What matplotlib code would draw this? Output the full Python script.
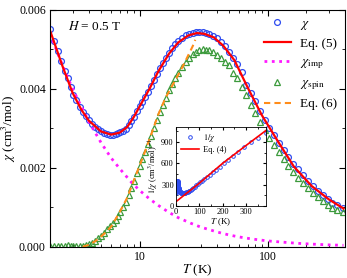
import numpy as np
import matplotlib
matplotlib.use('Agg')
import matplotlib.pyplot as plt
from matplotlib.ticker import MultipleLocator, FixedLocator, NullFormatter

plt.rcParams['font.family'] = 'serif'
plt.rcParams['font.serif'] = ['Liberation Serif', 'DejaVu Serif']
plt.rcParams['mathtext.fontset'] = 'stix'

###### Data ######

# measured chi (blue circles) and chi_spin (green triangles), same temperatures
T_data = [2.0, 2.15, 2.3, 2.45, 2.6, 2.75, 2.9, 3.05, 3.2, 3.4, 3.6, 3.8, 4.0, 4.25,
          4.5, 4.75, 5.0, 5.3, 5.6, 5.9, 6.2, 6.5, 6.8, 7.1, 7.4, 7.8, 8.2, 8.6, 9.0,
          9.5, 10, 10.5, 11, 11.6, 12.2, 12.9, 13.6, 14.4, 15.2, 16, 17, 18, 19, 20,
          21.5, 23, 24.5, 26, 27.5, 29, 31, 33, 35, 37.5, 40, 43, 46, 50, 54, 58, 63,
          68, 74, 80, 87, 95, 103, 112, 122, 133, 145, 158, 172, 188, 205, 224, 245,
          268, 293, 320, 350, 385]
chi = [0.00550, 0.00522, 0.00495, 0.00470, 0.00446, 0.00428, 0.00405, 0.00385,
       0.00371, 0.00355, 0.00342, 0.00330, 0.00320, 0.00311, 0.00303, 0.00297,
       0.00292, 0.00288, 0.00286, 0.00284, 0.00284, 0.00285, 0.00288, 0.00291,
       0.00294, 0.00299, 0.00308, 0.00318, 0.00329, 0.00343, 0.00356, 0.00366,
       0.00378, 0.00392, 0.00406, 0.00422, 0.00437, 0.00452, 0.00465, 0.00478,
       0.00491, 0.00503, 0.00513, 0.00520, 0.00528, 0.00535, 0.00539, 0.00542,
       0.00544, 0.00544, 0.00543, 0.00541, 0.00538, 0.00534, 0.00528, 0.00518,
       0.00507, 0.00492, 0.00478, 0.00462, 0.00442, 0.00410, 0.00390, 0.00368,
       0.00343, 0.00322, 0.00302, 0.00283, 0.00263, 0.00246, 0.00227, 0.00210,
       0.00196, 0.00181, 0.00166, 0.00153, 0.00142, 0.00131, 0.00121, 0.00112,
       0.00105, 0.00098]
chi_spin = [0.00002, 0.00002, 0.00003, 0.00002, 0.00003, 0.00005, 0.00002, 0.00001,
            0.00001, 0.00001, 0.00002, 0.00004, 0.00007, 0.00011, 0.00016, 0.00022,
            0.00028, 0.00036, 0.00044, 0.00053, 0.00060, 0.00069, 0.00078, 0.00089,
            0.00100, 0.00114, 0.00131, 0.00148, 0.00166, 0.00186, 0.00205, 0.00223,
            0.00240, 0.00260, 0.00280, 0.00301, 0.00321, 0.00341, 0.00360, 0.00377,
            0.00396, 0.00413, 0.00427, 0.00439, 0.00454, 0.00467, 0.00478, 0.00487,
            0.00494, 0.00498, 0.00500, 0.00499, 0.00497, 0.00492, 0.00486, 0.00478,
            0.00469, 0.00460, 0.00441, 0.00427, 0.00405, 0.00383, 0.00360, 0.00338,
            0.00315, 0.00295, 0.00276, 0.00258, 0.00240, 0.00222, 0.00205, 0.00190,
            0.00175, 0.00162, 0.00149, 0.00137, 0.00125, 0.00115, 0.00106, 0.00099,
            0.00093, 0.00089]

# Eq. (5) fit (red line)
T_eq5 = [2, 2.5, 3, 3.5, 4, 5, 6, 7, 8, 9, 10, 12, 14, 17, 20, 24, 28, 32, 38, 45,
         55, 70, 90, 120, 160, 220, 300, 390]
chi_eq5 = [0.00548, 0.00458, 0.00390, 0.00348, 0.00320, 0.00292, 0.00284, 0.00289,
           0.00303, 0.00328, 0.00355, 0.00401, 0.00444, 0.00489, 0.00517, 0.00535,
           0.00541, 0.00539, 0.00530, 0.00509, 0.00472, 0.00402, 0.00333, 0.00267,
           0.00203, 0.00154, 0.00120, 0.00097]

# impurity contribution (magenta dotted)
T_imp = [2, 2.5, 3, 4, 5, 6, 7, 8.66, 10, 12, 14, 16.8, 20, 25, 30, 41, 50, 60, 75,
         100, 130, 170, 220, 300, 390]
chi_imp = [0.00540, 0.00460, 0.00400, 0.00318, 0.00264, 0.00225, 0.00198, 0.00163,
           0.00143, 0.00121, 0.00105, 0.00088, 0.00074, 0.00060, 0.00050, 0.00037,
           0.00030, 0.00025, 0.00020, 0.00015, 0.00012, 0.00009, 0.00007, 0.00005,
           0.00004]

# Eq. (6) fit (orange dashed)
T_eq6 = [3.6, 4, 4.5, 5, 5.5, 6, 7, 8, 9, 10, 11, 12.5, 14, 16, 18, 20, 22, 24, 26, 27.2]
chi_eq6 = [0.00000, 0.00005, 0.00014, 0.00026, 0.00038, 0.00051, 0.00088, 0.00124,
           0.00167, 0.00205, 0.00240, 0.00290, 0.00335, 0.00378, 0.00408, 0.00435,
           0.00460, 0.00485, 0.00508, 0.00524]

# inset: Eq. (4) line for 1/chi
T_eq4 = [0, 100, 200, 300, 385]
inv_eq4 = [60, 320, 600, 850, 1060]

blue = '#2e4cf0'
green = '#3c9a3c'
orange = '#ff8c1a'

###### Main plot ######

fig = plt.figure(figsize=(3.47, 2.78), dpi=100)
ax = fig.add_axes([0.144, 0.112, 0.850, 0.853])

h_chi, = ax.plot(T_data, chi, 'o', ms=4.2, mfc='none', mec=blue, mew=0.9)
h_spin, = ax.plot(T_data, chi_spin, '^', ms=4.2, mfc='none', mec=green, mew=0.9)
h_imp, = ax.plot(T_imp, chi_imp, ':', color='#ff1aff', lw=2.0)
h_eq5, = ax.plot(T_eq5, chi_eq5, '-', color='red', lw=1.6)
h_eq6, = ax.plot(T_eq6, chi_eq6, '--', color=orange, lw=1.5, dashes=(3, 2))

ax.set_xscale('log')
ax.set_xlim(2, 400)
ax.set_ylim(0, 0.006)
ax.yaxis.set_major_locator(MultipleLocator(0.002))
ax.yaxis.set_minor_locator(MultipleLocator(0.001))
ax.set_yticklabels(['%.3f' % v for v in ax.get_yticks()])
ax.xaxis.set_major_locator(FixedLocator([10, 100]))
ax.set_xticklabels(['10', '100'])
ax.xaxis.set_minor_formatter(NullFormatter())
ax.tick_params(which='both', direction='in', top=True, right=True, labelsize=8.5, pad=3)
ax.tick_params(which='major', length=4)
ax.tick_params(which='minor', length=2)

ax.set_xlabel(r'$T$ (K)', fontsize=9.5, labelpad=0)
ax.set_ylabel(r'$\chi$ (cm$^3$/mol)', fontsize=9.5, labelpad=1)
ax.text(0.06, 0.93, r'$H$ = 0.5 T', transform=ax.transAxes, fontsize=9.5, va='center')

ax.legend([h_chi, h_eq5, h_imp, h_spin, h_eq6],
          [r'$\chi$', 'Eq. (5)', r'$\chi_{\rm imp}$', r'$\chi_{\rm spin}$', 'Eq. (6)'],
          loc='upper right', frameon=False, fontsize=9.5, numpoints=1,
          handlelength=2.0, handletextpad=0.7, labelspacing=0.45,
          borderaxespad=0.2, bbox_to_anchor=(1.0, 1.0))

###### Inset ######

axin = fig.add_axes([0.507, 0.259, 0.259, 0.284])
axin.plot(T_data, [1.0 / c for c in chi], 'o', ms=2.6, mfc='none', mec=blue, mew=0.7,
          label=r'$1/\chi$')
axin.plot(T_eq4, inv_eq4, '-', color='red', lw=1.2, label='Eq. (4)')
axin.set_xlim(0, 385)
axin.set_ylim(0, 1110)
axin.xaxis.set_major_locator(MultipleLocator(100))
axin.xaxis.set_minor_locator(MultipleLocator(50))
axin.yaxis.set_major_locator(MultipleLocator(300))
axin.yaxis.set_minor_locator(MultipleLocator(150))
axin.tick_params(which='both', direction='in', top=True, right=True, labelsize=6, pad=1.5)
axin.tick_params(which='major', length=2.5)
axin.tick_params(which='minor', length=1.5)
for s in axin.spines.values():
    s.set_linewidth(0.6)
axin.set_xlabel(r'$T$ (K)', fontsize=6.5, labelpad=0)
axin.set_ylabel(r'$1/\chi$ (cm$^3$/mol)$^{-1}$', fontsize=6, labelpad=0)
axin.legend(loc='upper left', frameon=False, fontsize=6, numpoints=1,
            handlelength=2.2, handletextpad=0.5, labelspacing=0.2, borderaxespad=0.2)

fig.savefig('out.png', dpi=100)
